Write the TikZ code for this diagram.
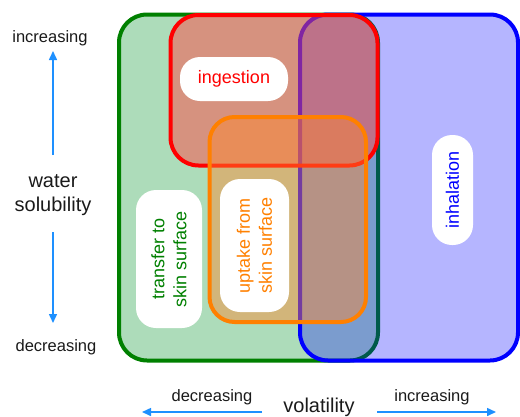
\documentclass[tikz,border=0pt]{standalone}
\usepackage{fontspec}
\setmainfont{Liberation Sans}
\usetikzlibrary{arrows.meta}
\definecolor{gline}{RGB}{0,128,0}
\definecolor{gfill}{RGB}{0,145,40}
\definecolor{rline}{RGB}{255,0,0}
\definecolor{rfill}{RGB}{255,75,70}
\definecolor{bline}{RGB}{0,0,255}
\definecolor{bfill}{RGB}{0,0,255}
\definecolor{oline}{RGB}{255,128,0}
\definecolor{ofill}{RGB}{255,135,45}
\definecolor{axis}{RGB}{30,144,255}
\definecolor{ink}{RGB}{26,26,26}
\begin{document}
\begin{tikzpicture}[x=1pt,y=-1pt,
  region/.style={rectangle, rounded corners=28pt, line width=4pt, inner sep=0pt},
  pill/.style={rectangle, rounded corners=20pt, fill=white, inner sep=0pt, align=center,
    font=\fontsize{18}{22}\selectfont},
  axislabel/.style={text=ink, font=\fontsize{16.5}{20}\selectfont, inner sep=0pt},
  axistitle/.style={text=ink, font=\fontsize{20}{24}\selectfont, inner sep=0pt, align=center},
  axisarrow/.style={draw=axis, line width=1.5pt, -{Triangle[length=9pt,width=8pt]}}
]
\useasboundingbox (0,0) rectangle (520,416);
\clip (0,0) rectangle (520,416);

% regions
\node[region, draw=gline, fill=gfill, fill opacity=0.32, minimum width=259pt, minimum height=346pt] (green) at (248.5,187.5) {};
\node[region, draw=bline, fill=bfill, fill opacity=0.29, minimum width=218pt, minimum height=346pt] (blue) at (409,187.5) {};
\node[region, draw=rline, fill=rfill, fill opacity=0.5, minimum width=207pt, minimum height=150.5pt] (red) at (274,90.25) {};
\node[region, rounded corners=25pt, draw=oline, fill=ofill, fill opacity=0.45, minimum width=156.5pt, minimum height=205pt] (orange) at (287.75,219.5) {};

% labels
\node[pill, text=rline, minimum width=108pt, minimum height=44pt] (ingestion) at (234,79) {ingestion};
\node[pill, text=bline, rotate=90, minimum width=110pt, minimum height=41pt] (inhalation) at (452.5,190) {inhalation};
\node[pill, text=gline, rotate=90, minimum width=138pt, minimum height=66pt] (transfer) at (169,259) {transfer to\\skin surface};
\node[pill, text=oline, rotate=90, minimum width=133pt, minimum height=69pt] (uptake) at (254.5,245.5) {uptake from\\skin surface};

% vertical axis
\node[axislabel] (vinc) at (50,38) {increasing};
\node[axistitle] (water) at (53,195) {water\\solubility};
\node[axislabel] (vdec) at (56,347) {decreasing};
\coordinate (vu0) at (53,155);
\coordinate (vu1) at (53,51);
\coordinate (vd0) at (53,232);
\coordinate (vd1) at (53,323);
\draw[axisarrow] (vu0) -- (vu1);
\draw[axisarrow] (vd0) -- (vd1);

% horizontal axis
\node[axislabel] (hdec) at (212,397) {decreasing};
\node[axistitle] (vol) at (319,407) {volatility};
\node[axislabel] (hinc) at (432,397) {increasing};
\coordinate (hl0) at (262,412);
\coordinate (hl1) at (142,412);
\coordinate (hr0) at (377,412);
\coordinate (hr1) at (496,412);
\draw[axisarrow] (hl0) -- (hl1);
\draw[axisarrow] (hr0) -- (hr1);
\end{tikzpicture}
\end{document}
